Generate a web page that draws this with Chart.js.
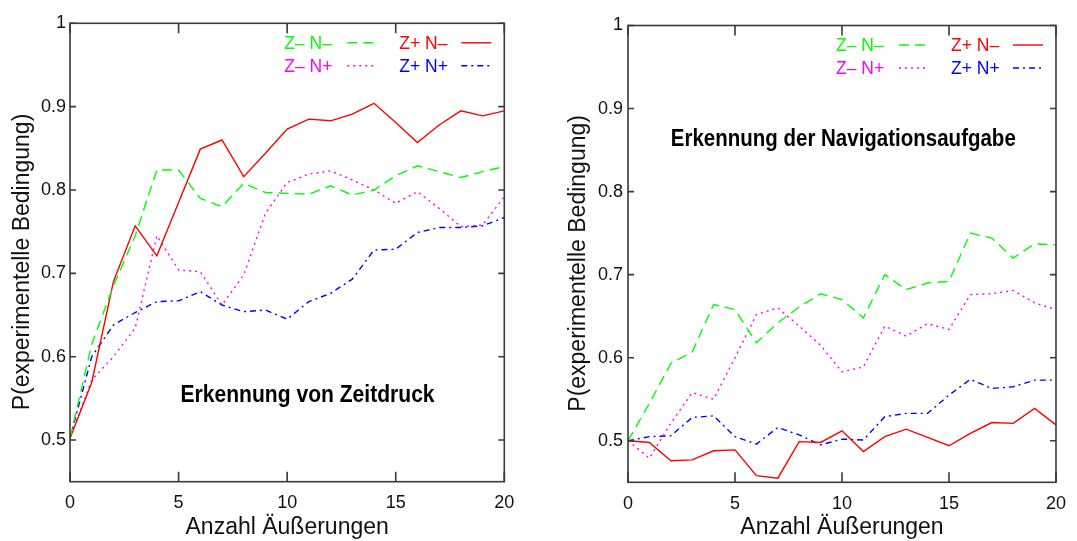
<!DOCTYPE html>
<html>
<head>
<meta charset="utf-8">
<script src="https://cdn.jsdelivr.net/npm/chart.js@4.4.1/dist/chart.umd.min.js"></script>
<style>
  html, body { margin: 0; padding: 0; background: #fff; }
  #wrap { position: relative; width: 1077px; height: 541px; overflow: hidden; }
  #wrap canvas { position: absolute; top: 0; }
</style>
</head>
<body>
<div id="wrap">
  <canvas id="zeit" width="540" height="541" style="left:0"></canvas>
  <canvas id="navi" width="537" height="541" style="left:540px"></canvas>
</div>
<script>
const steps  = [0, 1, 2, 3, 4, 5, 6, 7, 8, 9, 10, 11, 12, 13, 14, 15, 16, 17, 18, 19, 20];
const xTicks = [0, 5, 10, 15, 20];
const yTicks = [0.5, 0.6, 0.7, 0.8, 0.9, 1];
const seriesNames = ['Z\u2013 N\u2013', 'Z+ N\u2013', 'Z\u2013 N+', 'Z+ N+'];

// Erkennung von Zeitdruck
const zeitZmNm = [0.502, 0.615, 0.685, 0.745, 0.824, 0.824, 0.790, 0.780, 0.808, 0.797, 0.796,
                  0.795, 0.805, 0.794, 0.800, 0.817, 0.829, 0.822, 0.815, 0.822, 0.828];
const zeitZpNm = [0.502, 0.569, 0.690, 0.757, 0.721, 0.785, 0.849, 0.860, 0.816, 0.844, 0.873,
                  0.885, 0.883, 0.891, 0.904, 0.881, 0.857, 0.878, 0.895, 0.889, 0.895];
const zeitZmNp = [0.502, 0.572, 0.600, 0.634, 0.745, 0.704, 0.702, 0.662, 0.698, 0.772, 0.809,
                  0.819, 0.823, 0.812, 0.800, 0.784, 0.798, 0.778, 0.756, 0.758, 0.792];
const zeitZpNp = [0.502, 0.600, 0.638, 0.653, 0.666, 0.667, 0.678, 0.662, 0.654, 0.656, 0.645,
                  0.666, 0.676, 0.693, 0.728, 0.729, 0.749, 0.755, 0.755, 0.757, 0.767];

// Erkennung der Navigationsaufgabe
const naviZmNm = [0.500, 0.545, 0.593, 0.607, 0.664, 0.658, 0.618, 0.642, 0.661, 0.677, 0.670,
                  0.648, 0.700, 0.682, 0.690, 0.692, 0.750, 0.744, 0.720, 0.737, 0.736];
const naviZpNm = [0.500, 0.498, 0.476, 0.477, 0.488, 0.489, 0.458, 0.455, 0.499, 0.498, 0.512,
                  0.487, 0.505, 0.514, 0.504, 0.494, 0.509, 0.522, 0.521, 0.539, 0.519];
const naviZmNp = [0.500, 0.479, 0.521, 0.558, 0.550, 0.600, 0.652, 0.660, 0.638, 0.615, 0.583,
                  0.589, 0.638, 0.626, 0.641, 0.634, 0.676, 0.677, 0.681, 0.666, 0.658];
const naviZpNp = [0.500, 0.505, 0.506, 0.528, 0.530, 0.505, 0.496, 0.516, 0.507, 0.495, 0.502,
                  0.501, 0.529, 0.533, 0.533, 0.555, 0.574, 0.563, 0.565, 0.573, 0.573];

const lineStyles = [
  { color: '#00ff00', dash: [10, 6] },
  { color: '#ff0000', dash: [] },
  { color: '#ff00ff', dash: [2, 4] },
  { color: '#0000ff', dash: [6, 4, 2, 4] }
];

const FONT = '"Liberation Sans", Arial, sans-serif';

// border box, inward mirrored ticks, y title, caption and the two-column key
const framePlugin = {
  id: 'frame',
  afterDatasetsDraw(chart, args, opts) {
    const { ctx, chartArea: a, scales: { x, y } } = chart;
    ctx.save();

    ctx.strokeStyle = '#3a3a3a';
    ctx.lineWidth = 1.6;
    ctx.strokeRect(a.left, a.top, a.right - a.left, a.bottom - a.top);
    ctx.beginPath();
    xTicks.forEach(v => {
      const px = x.getPixelForValue(v);
      ctx.moveTo(px, a.bottom); ctx.lineTo(px, a.bottom - 10);
      ctx.moveTo(px, a.top);    ctx.lineTo(px, a.top + 10);
    });
    yTicks.forEach(v => {
      const py = y.getPixelForValue(v);
      ctx.moveTo(a.left, py);  ctx.lineTo(a.left + 6, py);
      ctx.moveTo(a.right, py); ctx.lineTo(a.right - 6, py);
    });
    ctx.stroke();

    ctx.fillStyle = '#111';
    ctx.textAlign = 'center';
    ctx.textBaseline = 'middle';

    // rotated y title
    ctx.save();
    ctx.translate(opts.titleX, (a.top + a.bottom) / 2 + 9.5);
    ctx.rotate(-Math.PI / 2);
    ctx.font = '23px ' + FONT;
    ctx.fillText('P(experimentelle Bedingung)', 0, 0);
    ctx.restore();

    // narrow bold caption
    ctx.save();
    ctx.fillStyle = '#000';
    ctx.font = 'bold 23px ' + FONT;
    const w = ctx.measureText(opts.caption).width;
    ctx.translate(x.getPixelForValue(opts.at[0]), y.getPixelForValue(opts.at[1]));
    ctx.scale(opts.captionWidth / w, 1);
    ctx.fillText(opts.caption, 0, 0);
    ctx.restore();

    ctx.font = '17.5px ' + FONT;
    ctx.textAlign = 'left';
    chart.data.datasets.forEach((ds, i) => {
      const col = i % 2, row = Math.floor(i / 2);
      const ty = a.top + 20.5 + row * 23;
      const tx = a.right + (col ? -105 : -220);
      const s0 = a.right + (col ? -43 : -157);
      ctx.fillStyle = ds.borderColor;
      ctx.fillText(ds.label, tx, ty);
      ctx.strokeStyle = ds.borderColor;
      ctx.lineWidth = 1.4;
      ctx.setLineDash(ds.borderDash);
      ctx.beginPath();
      ctx.moveTo(s0, ty - 1);
      ctx.lineTo(s0 + 30, ty - 1);
      ctx.stroke();
    });
    ctx.setLineDash([]);
    ctx.restore();
  }
};

function makeChart(id, series, caption, at, g) {
  new Chart(document.getElementById(id), {
    type: 'line',
    data: {
      datasets: series.map((vals, i) => ({
        label: seriesNames[i],
        data: steps.map((s, k) => ({ x: s, y: vals[k] })),
        borderColor: lineStyles[i].color,
        borderDash: lineStyles[i].dash,
        borderWidth: 1.4,
        pointRadius: 0,
        tension: 0,
        fill: false
      }))
    },
    options: {
      responsive: false,
      animation: false,
      events: [],
      layout: { padding: { top: g.top, right: g.right, left: 0, bottom: 0 } },
      plugins: {
        legend: { display: false },
        tooltip: { enabled: false },
        frame: { caption: caption, at: at, captionWidth: g.captionWidth, titleX: g.titleX }
      },
      scales: {
        x: {
          type: 'linear',
          min: 0, max: 20,
          grid: { display: false, drawTicks: false },
          border: { display: false },
          afterBuildTicks: s => { s.ticks = xTicks.map(v => ({ value: v })); },
          afterFit: s => { s.height = g.xHeight; },
          ticks: { color: '#111', padding: 11, maxRotation: 0, font: { family: FONT, size: 18 } },
          title: {
            display: true, text: 'Anzahl \u00c4u\u00dferungen', color: '#111',
            padding: 0, font: { family: FONT, size: 23 }
          }
        },
        y: {
          min: 0.45, max: 1,
          grid: { display: false, drawTicks: false },
          border: { display: false },
          afterBuildTicks: s => { s.ticks = yTicks.map(v => ({ value: v })); },
          afterFit: s => { s.width = g.yWidth; },
          ticks: {
            color: '#111', padding: g.tickPad, font: { family: FONT, size: 18 },
            callback: v => (v === 1 ? '1' : v.toFixed(1))
          }
        }
      }
    },
    plugins: [framePlugin]
  });
}

makeChart('zeit', [zeitZmNm, zeitZpNm, zeitZmNp, zeitZpNp], 'Erkennung von Zeitdruck', [10.94, 0.553],
  { top: 23.3, right: 35.7, xHeight: 59.3, yWidth: 70, tickPad: 4, titleX: 23, captionWidth: 254 });
makeChart('navi', [naviZmNm, naviZpNm, naviZmNp, naviZpNp], 'Erkennung der Navigationsaufgabe', [10.06, 0.862],
  { top: 25.5, right: 9, xHeight: 58.7, yWidth: 88, tickPad: 5, titleX: 39, captionWidth: 345 });
</script>
</body>
</html>
